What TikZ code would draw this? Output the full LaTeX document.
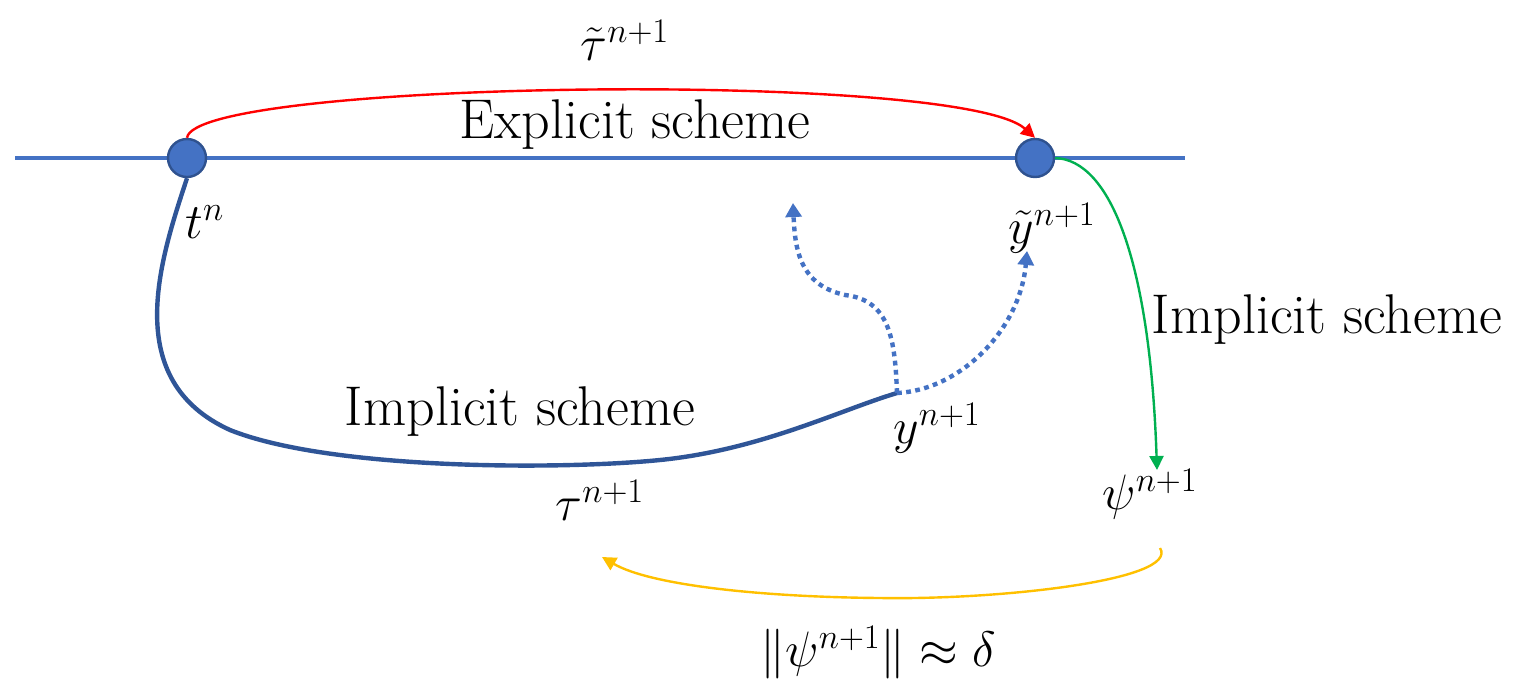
\documentclass[tikz,border=0pt]{standalone}
\usetikzlibrary{arrows.meta}
\definecolor{lineblue}{HTML}{4472C4}
\definecolor{darkblue}{HTML}{2F5597}
\definecolor{edgeblue}{HTML}{2F528F}
\definecolor{redc}{HTML}{FF0000}
\definecolor{greenc}{HTML}{00B050}
\definecolor{yellowc}{HTML}{FFC000}
\begin{document}
\begin{tikzpicture}[x=0.5pt,y=-0.5pt,
  dot/.style={circle,fill=lineblue,draw=edgeblue,line width=1.2pt,minimum size=19pt,inner sep=0pt},
  lbl/.style={inner sep=0pt,font=\fontsize{24}{28}\selectfont},
  txt/.style={inner sep=0pt,font=\fontsize{28}{32}\selectfont},
  tip/.style={-{Triangle[length=7pt,width=7pt]}},
  dotline/.style={lineblue,line width=2.2pt,dash pattern=on 2.4pt off 2.2pt}]
\useasboundingbox (0,0) rectangle (1513,681);
% horizontal axis
\coordinate (L) at (15,158);
\coordinate (R) at (1185,158);
\draw[lineblue,line width=2pt] (L) -- (R);
\node[dot] (c1) at (187,158) {};
\node[dot] (c2) at (1035,158) {};
% labels
\node[lbl,font=\fontsize{27}{30}\selectfont] (tt) at (625,40) {$\tilde{\tau}^{n+1}$};
\node[txt] (ex) at (635,125) {Explicit scheme};
\node[lbl] (tn) at (205,222) {$t^{n}$};
\node[lbl,font=\fontsize{26}{30}\selectfont] (yt) at (1052,228) {$\tilde{y}^{n+1}$};
\node[txt] (im1) at (520,412) {Implicit scheme};
\node[lbl,font=\fontsize{26}{30}\selectfont] (yn) at (937,428) {$y^{n+1}$};
\node[txt] (im2) at (1327,320) {Implicit scheme};
\node[lbl,font=\fontsize{27}{30}\selectfont] (psi) at (1150,494) {$\psi^{n+1}$};
\node[lbl] (tau) at (600,500) {$\tau^{n+1}$};
\node[lbl] (nrm) at (878,653) {$\|\psi^{n+1}\|\approx\delta$};
% coordinates
\coordinate (ynp) at (897,393);
\coordinate (d1) at (793,203);
\coordinate (d2) at (1027,251);
\coordinate (g1) at (1157,470);
\coordinate (y1) at (1160,548);
\coordinate (y2) at (602,557);
% red explicit arrow
\draw[redc,line width=1.2pt,tip] (c1.north) .. controls (195,80) and (960,70) .. (c2.north);
% dark blue implicit curve
\draw[darkblue,line width=2.2pt] (c1.south) .. controls (160,260) and (120,380) .. (230,430)
  .. controls (330,470) and (560,470) .. (660,460)
  .. controls (760,450) and (840,410) .. (ynp);
% dotted arrows
\draw[dotline,-{Triangle[length=7pt,width=8pt]}] (ynp) .. controls (895,340) and (890,300) .. (845,295)
  .. controls (800,285) and (795,250) .. (d1);
\draw[dotline,-{Triangle[length=7pt,width=8pt]}] (ynp) .. controls (960,390) and (1020,330) .. (d2);
% green implicit arrow
\draw[greenc,line width=1.2pt,tip] (c2.east) .. controls (1110,160) and (1150,260) .. (g1);
% yellow arrow
\draw[yellowc,line width=1.2pt,tip] (y1) .. controls (1180,580) and (1000,600) .. (880,598)
  .. controls (760,597) and (650,585) .. (y2);
\end{tikzpicture}
\end{document}
